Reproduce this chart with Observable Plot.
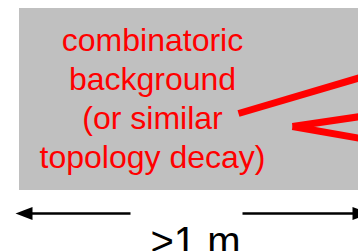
<!DOCTYPE html>
<html>
<head>
<meta charset="utf-8">
<script src="https://cdn.jsdelivr.net/npm/d3@7"></script>
<script src="https://cdn.jsdelivr.net/npm/@observablehq/plot@0.6"></script>
<style>
  html, body { margin: 0; padding: 0; background: white; overflow: hidden; }
</style>
</head>
<body>
<div id="chart"></div>
<script>
// Gray background panel
const panelX = [19, 360];
const panelY = [8, 190];

// Red label lines and their baselines
const labelLines = ["combinatoric", "background", "(or similar", "topology decay)"];
const labelBaselines = [50, 89, 128, 167];
const labelCenterX = 152;

// Red pointer strokes (x1, y1, x2, y2)
const pointerX1 = [238, 292, 292];
const pointerY1 = [113, 126, 126];
const pointerX2 = [360, 360, 360];
const pointerY2 = [77, 116, 138];

// Dimension arrow
const arrowY = 213;
const shaftX1 = [30, 242];
const shaftX2 = [130, 353];
const headBaseX = [32, 352];
const headRotate = [-90, 90];
const dimensionLabel = ">1 m";
const dimensionLabelX = 150;
const dimensionLabelBaseline = 254;

const W = 358, H = 251;

const labels = labelLines.map((t, i) => ({text: t, y: labelBaselines[i]}));
const pointers = pointerX1.map((x1, i) => ({x1, y1: pointerY1[i], x2: pointerX2[i], y2: pointerY2[i]}));
const shafts = shaftX1.map((x1, i) => ({x1, x2: shaftX2[i]}));
const heads = headBaseX.map((x, i) => ({x, rotate: headRotate[i]}));

const triangleHead = {
  draw(context, l, r) {
    context.moveTo(0, -l);
    context.lineTo(-r, 0);
    context.lineTo(r, 0);
    context.closePath();
  }
};

const chart = Plot.plot({
  width: W,
  height: H,
  margin: 0,
  x: {domain: [0, W], range: [0, W], axis: null},
  y: {domain: [0, H], range: [0, H], axis: null},
  style: {fontFamily: "'Liberation Sans', Arial, sans-serif", background: "white"},
  marks: [
    Plot.rect([{x1: panelX[0], x2: panelX[1], y1: panelY[0], y2: panelY[1]}],
      {x1: "x1", x2: "x2", y1: "y1", y2: "y2", fill: "#c0c0c0"}),
    Plot.text(labels, {
      x: () => labelCenterX, y: "y", text: "text",
      lineAnchor: "bottom", textAnchor: "middle",
      fill: "#ff0000", fontSize: 32
    }),
    Plot.link(pointers, {
      x1: "x1", y1: "y1", x2: "x2", y2: "y2",
      stroke: "#ff0000", strokeWidth: 7, strokeLinecap: "butt"
    }),
    Plot.link(shafts, {
      x1: "x1", x2: "x2", y1: () => arrowY, y2: () => arrowY,
      stroke: "black", strokeWidth: 2.5
    }),
    Plot.vector(heads, {
      x: "x", y: () => arrowY, rotate: "rotate", length: 17, r: 6.5,
      anchor: "start", shape: triangleHead, fill: "black", stroke: "none"
    }),
    Plot.text([dimensionLabel], {
      x: () => dimensionLabelX, y: () => dimensionLabelBaseline, text: d => d,
      lineAnchor: "bottom", textAnchor: "start",
      fill: "black", fontSize: 40
    })
  ]
});
document.getElementById("chart").appendChild(chart);
</script>
</body>
</html>
